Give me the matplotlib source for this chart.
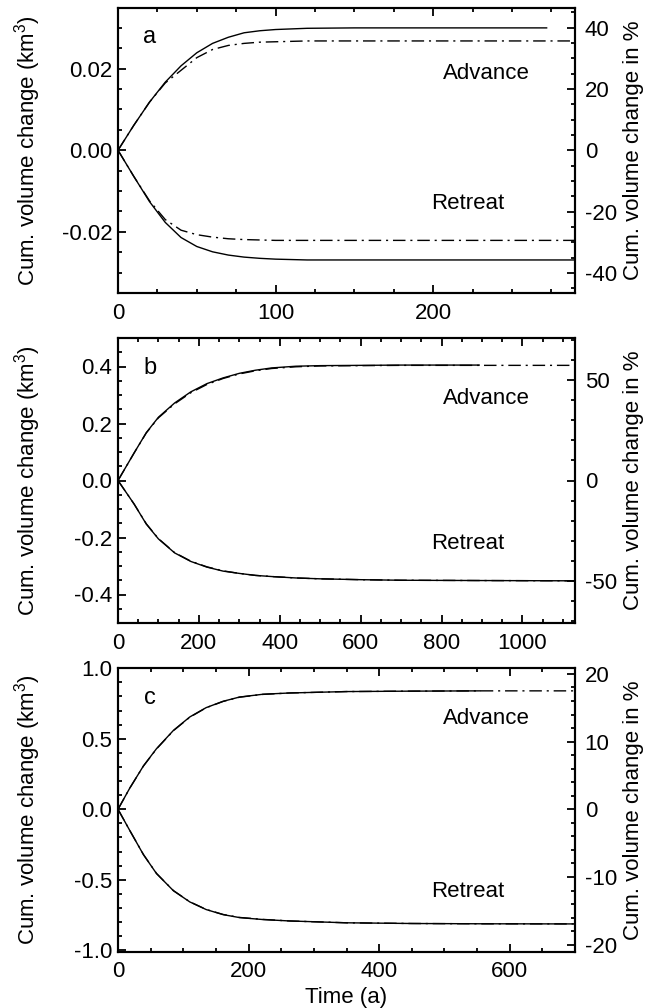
import matplotlib
matplotlib.use('Agg')
import matplotlib.pyplot as plt
from matplotlib.ticker import MultipleLocator, FormatStrFormatter

plt.rcParams['font.family'] = ['Liberation Sans', 'DejaVu Sans']
plt.rcParams['axes.unicode_minus'] = False
plt.rcParams['mathtext.fontset'] = 'custom'
plt.rcParams['mathtext.rm'] = 'Liberation Sans'
plt.rcParams['mathtext.default'] = 'regular'

# ---------------- data ----------------
# panel a
time_a_solid = [0, 10, 20, 30, 40, 50, 60, 70, 80, 90, 100, 120, 150, 200, 272]
adv_solid_a = [0, 0.0061, 0.0118, 0.0167, 0.0207, 0.0239, 0.0262, 0.0277, 0.0288,
               0.0293, 0.0296, 0.0299, 0.0300, 0.0300, 0.0300]
time_a = [0, 10, 20, 30, 40, 50, 60, 70, 80, 90, 100, 120, 150, 200, 290]
adv_dash_a = [0, 0.0061, 0.0118, 0.0165, 0.0196, 0.0227, 0.0247, 0.0257, 0.0262,
              0.0265, 0.0266, 0.0268, 0.0268, 0.0268, 0.0268]
ret_solid_a = [0, -0.0064, -0.0126, -0.0177, -0.0214, -0.0236, -0.0249, -0.0257, -0.0262,
               -0.0265, -0.0267, -0.0269, -0.0269, -0.0269, -0.0269]
ret_dash_a = [0, -0.0064, -0.0124, -0.0170, -0.0196, -0.0207, -0.0213, -0.0217, -0.0219,
              -0.0220, -0.0221, -0.0221, -0.0221, -0.0221, -0.0221]

# panel b
time_b_solid = [0, 40, 70, 100, 140, 180, 220, 260, 300, 340, 380, 440, 500, 600, 700, 893]
adv_solid_b = [0, 0.097, 0.168, 0.222, 0.272, 0.311, 0.340, 0.360, 0.376, 0.387, 0.395,
               0.401, 0.403, 0.404, 0.405, 0.405]
time_b = [0, 40, 70, 100, 140, 180, 220, 260, 300, 340, 380, 440, 500, 600, 700, 893, 1130]
adv_dash_b = [0, 0.097, 0.167, 0.220, 0.269, 0.308, 0.337, 0.358, 0.374, 0.385, 0.393,
              0.399, 0.402, 0.403, 0.404, 0.404, 0.404]
ret_solid_b = [0, -0.083, -0.153, -0.205, -0.254, -0.284, -0.304, -0.318, -0.326, -0.333,
               -0.337, -0.342, -0.345, -0.348, -0.350, -0.351, -0.352]
ret_dash_b = [0, -0.083, -0.152, -0.204, -0.253, -0.283, -0.303, -0.317, -0.326, -0.333,
              -0.337, -0.342, -0.345, -0.348, -0.350, -0.351, -0.352]

# panel c
time_c_solid = [0, 18, 39, 59, 85, 110, 135, 161, 186, 222, 263, 350, 450, 555]
adv_solid_c = [0, 0.150, 0.308, 0.430, 0.560, 0.655, 0.721, 0.766, 0.796, 0.816, 0.825,
               0.835, 0.838, 0.840]
time_c = [0, 18, 39, 59, 85, 110, 135, 161, 186, 222, 263, 350, 450, 555, 700]
adv_dash_c = [0, 0.150, 0.307, 0.428, 0.558, 0.653, 0.720, 0.765, 0.795, 0.815, 0.825,
              0.835, 0.838, 0.840, 0.840]
ret_solid_c = [0, -0.150, -0.322, -0.456, -0.578, -0.657, -0.711, -0.747, -0.768, -0.782,
               -0.792, -0.805, -0.810, -0.812, -0.813]
ret_dash_c = [0, -0.150, -0.321, -0.455, -0.577, -0.656, -0.710, -0.746, -0.767, -0.781,
              -0.792, -0.805, -0.810, -0.812, -0.813]

panel_letters = ['a', 'b', 'c']
# reference volume (km3) used for the percentage axis
ref_volume = [0.0752, 0.702, 4.8]

# ---------------- figure ----------------
fig = plt.figure(figsize=(6.56, 10.08), dpi=100)
W, H = 656.0, 1008.0
left_px, right_px = 118, 575
boxes = [(7.5, 293), (338, 623), (668.3, 951.7)]

FS = 16
DASH = (0, (9, 3.5, 1.5, 3.5))

panels = [
    dict(xlim=(0, 290), xmaj=100, xmin=25, ylim=(-0.035, 0.035), ymaj=0.02, ymin=0.005,
         yfmt='%.2f', rmaj=20, rmin=5,
         series=[(time_a_solid, adv_solid_a, '-'), (time_a, adv_dash_a, DASH),
                 (time_a, ret_solid_a, '-'), (time_a, ret_dash_a, DASH)],
         adv_y=0.77, ret_y=0.313),
    dict(xlim=(0, 1130), xmaj=200, xmin=50, ylim=(-0.5, 0.5), ymaj=0.2, ymin=0.05,
         yfmt='%.1f', rmaj=50, rmin=10,
         series=[(time_b_solid, adv_solid_b, '-'), (time_b, adv_dash_b, DASH),
                 (time_b, ret_solid_b, '-'), (time_b, ret_dash_b, DASH)],
         adv_y=0.788, ret_y=0.279),
    dict(xlim=(0, 700), xmaj=200, xmin=50, ylim=(-1.01, 1.0), ymaj=0.5, ymin=0.1,
         yfmt='%.1f', rmaj=10, rmin=2,
         series=[(time_c_solid, adv_solid_c, '-'), (time_c, adv_dash_c, DASH),
                 (time_c, ret_solid_c, '-'), (time_c, ret_dash_c, DASH)],
         adv_y=0.823, ret_y=0.214),
]

tick_kw = dict(direction='in', width=1.3, labelsize=FS)

for i, p in enumerate(panels):
    top, bot = boxes[i]
    ax = fig.add_axes([left_px / W, 1 - bot / H, (right_px - left_px) / W, (bot - top) / H])
    for (t, v, ls) in p['series']:
        ax.plot(t, v, color='black', lw=1.0, linestyle=ls)
    ax.set_xlim(*p['xlim'])
    ax.set_ylim(*p['ylim'])
    ax.xaxis.set_major_locator(MultipleLocator(p['xmaj']))
    ax.xaxis.set_minor_locator(MultipleLocator(p['xmin']))
    ax.yaxis.set_major_locator(MultipleLocator(p['ymaj']))
    ax.yaxis.set_minor_locator(MultipleLocator(p['ymin']))
    ax.yaxis.set_major_formatter(FormatStrFormatter(p['yfmt']))
    ax.xaxis.set_major_formatter(FormatStrFormatter('%d'))
    ax.tick_params(axis='both', which='major', length=6, top=True, right=False, **tick_kw)
    ax.tick_params(axis='both', which='minor', length=3, top=True, right=False,
                   direction='in', width=1.3)
    ax.tick_params(axis='y', which='major', pad=4)
    ax.tick_params(axis='x', which='major', pad=7)
    for s in ax.spines.values():
        s.set_linewidth(1.5)
    ax.set_ylabel('Cum. volume change (km$^3$)', fontsize=FS)
    ax.yaxis.set_label_coords(-0.165, 0.5)
    ax.text(0.07, 0.895, panel_letters[i], transform=ax.transAxes, fontsize=FS + 1,
            ha='center', va='center')
    ax.text(0.807, p['adv_y'], 'Advance', transform=ax.transAxes, fontsize=FS,
            ha='center', va='center')
    ax.text(0.765, p['ret_y'], 'Retreat', transform=ax.transAxes, fontsize=FS,
            ha='center', va='center')

    ax2 = ax.twinx()
    ax2.set_ylim(p['ylim'][0] / ref_volume[i] * 100, p['ylim'][1] / ref_volume[i] * 100)
    ax2.yaxis.set_major_locator(MultipleLocator(p['rmaj']))
    ax2.yaxis.set_minor_locator(MultipleLocator(p['rmin']))
    ax2.yaxis.set_major_formatter(FormatStrFormatter('%d'))
    ax2.tick_params(axis='y', which='major', length=6, pad=7, **tick_kw)
    ax2.tick_params(axis='y', which='minor', length=3, direction='in', width=1.3)
    for lab in ax2.get_yticklabels():
        lab.set_horizontalalignment('left')
    for s in ax2.spines.values():
        s.set_linewidth(1.5)
    ax2.set_ylabel('Cum. volume change in %', fontsize=FS)
    ax2.yaxis.set_label_coords(1.104, 0.5)
    if i == 2:
        ax.set_xlabel('Time (a)', fontsize=FS, labelpad=3)

fig.savefig('out.png', dpi=100)
